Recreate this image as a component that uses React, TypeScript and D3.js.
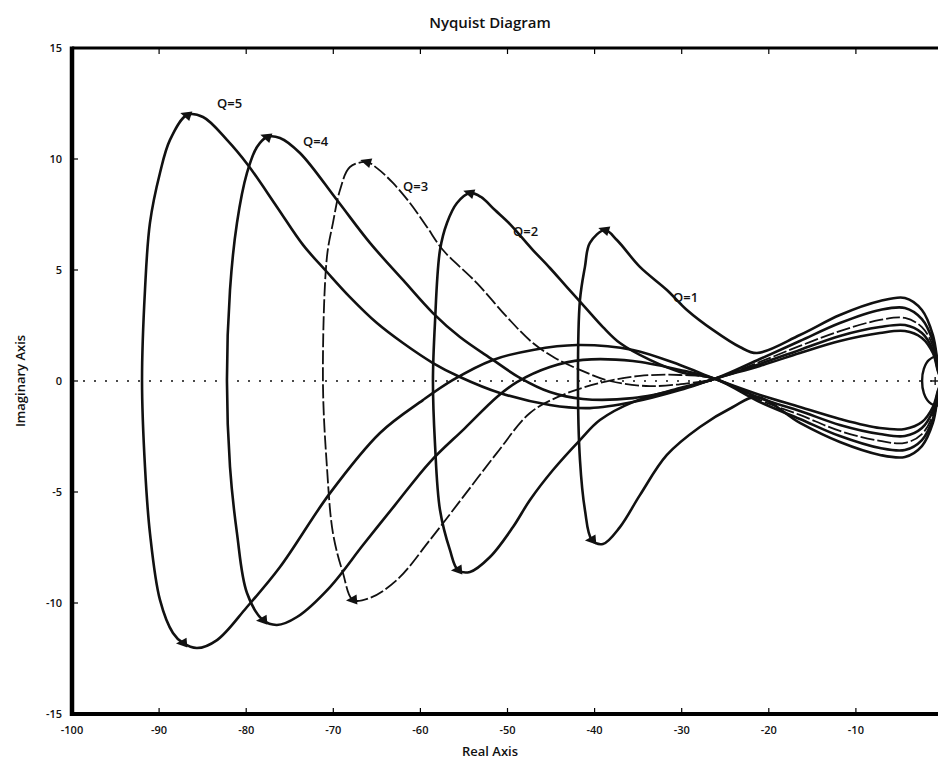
import React from "react";
import * as d3 from "d3";

// Nyquist loops, one per Q as [Re, Im]
const q1: [number, number][] = [
  [-38.81, 6.8], [-40.54, 6.22], [-41.11, 5.14], [-41.68, 3.65], [-41.91, 0],
  [-41.68, -3.56], [-41.11, -5.81], [-40.31, -7.16], [-39.04, -7.34], [-37.09, -6.58],
  [-34.8, -5.14], [-31.7, -3.33], [-27.91, -2.07], [-24.12, -1.17], [-21.36, -0.72],
  [-16.43, -1.89], [-11.84, -2.75], [-7.24, -3.33], [-4.37, -3.42], [-2.42, -2.93],
  [-1.16, -1.89], [-0.59, -0.68], [-0.24, 0], [-0.59, 0.77], [-1.16, 2.07],
  [-2.42, 3.2], [-4.37, 3.74], [-7.24, 3.6], [-11.84, 2.97], [-16.43, 2.07],
  [-21.36, 1.26], [-23.32, 1.53], [-26.42, 2.3], [-29.4, 3.2], [-31.7, 4.1],
  [-34.8, 5.14], [-37.44, 6.35],
];

const q2: [number, number][] = [
  [-54.31, 8.47], [-55.8, 8.02], [-56.95, 7.12], [-57.75, 5.9], [-58.33, 2.61],
  [-58.56, 0], [-58.33, -2.79], [-57.75, -5.81], [-56.61, -7.61], [-55.69, -8.51],
  [-54.31, -8.6], [-52.01, -7.93], [-49.37, -6.58], [-47.42, -5.36], [-44.78, -4.01],
  [-41.68, -2.66], [-39.39, -1.76], [-35.6, -0.95], [-30.2, -0.32], [-26.2, 0.1],
  [-21.02, 0.99], [-16.43, 1.8], [-11.84, 2.61], [-7.24, 3.2], [-4.37, 3.29],
  [-2.42, 2.79], [-1.16, 1.8], [-0.59, 0.68], [-0.24, 0], [-0.59, -0.63],
  [-1.16, -1.71], [-2.42, -2.66], [-4.37, -3.11], [-7.24, -3.02], [-11.84, -2.48],
  [-16.43, -1.71], [-21.02, -0.95], [-26.2, 0.1], [-30.2, 0.41], [-33.65, 0.95],
  [-37.09, 1.71], [-39.04, 2.43], [-41.11, 3.33], [-43.18, 4.23], [-45.13, 5.09],
  [-47.08, 5.9], [-49.72, 7.07], [-51.44, 7.7], [-53.05, 8.29],
];

const q3: [number, number][] = [
  [-66.14, 9.86], [-68.09, 9.64], [-69.23, 8.6], [-70.04, 7.12], [-70.73, 5.59],
  [-71.19, 0], [-70.73, -3.87], [-70.04, -6.85], [-68.89, -8.65], [-67.74, -9.86],
  [-65.79, -9.77], [-62.69, -8.96], [-58.9, -7.16], [-55.11, -5.23], [-51.21, -3.24],
  [-47.42, -1.44], [-43.98, -0.68], [-39.39, -0.09], [-34.8, 0.23], [-30.2, 0.27],
  [-26.2, 0.1], [-21.02, -0.86], [-16.43, -1.53], [-11.84, -2.25], [-7.24, -2.7],
  [-4.37, -2.79], [-2.42, -2.39], [-1.16, -1.53], [-0.59, -0.54], [-0.24, 0],
  [-0.59, 0.59], [-1.16, 1.58], [-2.42, 2.43], [-4.37, 2.84], [-7.24, 2.75],
  [-11.84, 2.25], [-16.43, 1.58], [-21.02, 0.86], [-26.2, 0.1], [-29.06, -0.09],
  [-33.65, -0.23], [-38.24, 0], [-41.68, 0.5], [-44.55, 1.04], [-47.08, 1.71],
  [-50.06, 2.88], [-53.51, 4.41], [-57.41, 5.9], [-59.25, 6.94], [-61.2, 8.02],
  [-63.15, 8.92], [-64.99, 9.59],
];

const q4: [number, number][] = [
  [-77.61, 10.99], [-78.76, 10.54], [-79.91, 9.37], [-81.06, 7.12], [-81.86, 4.1],
  [-82.21, 0], [-81.86, -3.87], [-81.06, -6.85], [-79.91, -9.55], [-78.07, -10.77],
  [-76.47, -10.99], [-74.17, -10.63], [-70.38, -9.28], [-66.59, -7.39], [-62.92, -5.59],
  [-58.9, -3.65], [-54.88, -2.12], [-51.21, -0.72], [-48.92, -0.05], [-45.13, 0.63],
  [-41.34, 0.95], [-35.6, 0.9], [-30.2, 0.5], [-26.2, 0.1], [-21.02, -0.77],
  [-16.43, -1.35], [-11.84, -1.98], [-7.24, -2.39], [-4.37, -2.48], [-2.42, -2.12],
  [-1.16, -1.35], [-0.59, -0.5], [-0.24, 0], [-0.59, 0.5], [-1.16, 1.4],
  [-2.42, 2.16], [-4.37, 2.52], [-7.24, 2.43], [-11.84, 2.03], [-16.43, 1.4],
  [-21.02, 0.77], [-26.2, 0.1], [-30.2, -0.36], [-35.6, -0.77], [-41.34, -0.81],
  [-45.13, -0.5], [-48.57, 0.14], [-51.67, 0.95], [-55.46, 1.98], [-58.56, 3.06],
  [-62.0, 4.55], [-65.79, 6.22], [-69.58, 8.15], [-73.83, 10.27], [-76.12, 10.95],
];

const q5: [number, number][] = [
  [-86.8, 11.98], [-88.75, 10.86], [-89.9, 9.37], [-91.05, 7.12], [-91.62, 4.1],
  [-91.96, 0], [-91.62, -3.87], [-91.05, -6.85], [-89.9, -9.86], [-88.41, -11.35],
  [-87.26, -11.8], [-85.65, -12.03], [-83.35, -11.67], [-79.91, -10.18], [-76.12, -8.38],
  [-70.38, -5.05], [-64.64, -2.34], [-59.71, -0.86], [-56.26, 0.05], [-51.67, 0.95],
  [-47.08, 1.4], [-42.03, 1.62], [-35.6, 1.4], [-30.2, 0.72], [-26.2, 0.1],
  [-21.02, -0.63], [-16.43, -1.17], [-11.84, -1.71], [-7.24, -2.12], [-4.37, -2.16],
  [-2.42, -1.85], [-1.16, -1.17], [-0.59, -0.45], [-0.24, 0], [-0.59, 0.45],
  [-1.16, 1.26], [-2.42, 1.94], [-4.37, 2.25], [-7.24, 2.16], [-11.84, 1.8],
  [-16.43, 1.26], [-21.02, 0.68], [-26.2, 0.1], [-30.2, -0.41], [-35.6, -0.95],
  [-40.54, -1.22], [-45.13, -1.08], [-50.87, -0.54], [-55.46, 0.18], [-58.56, 0.81],
  [-62.0, 1.71], [-64.99, 2.61], [-68.09, 3.78], [-70.73, 4.91], [-73.48, 6.13],
  [-76.47, 7.84], [-79.8, 9.73], [-82.21, 10.86], [-84.96, 11.89],
];

// small loop round the -1 point
const originLoop: [number, number][] = [
  [-0.6, 1.1], [-1.6, 0.95], [-2.2, 0.55], [-2.4, 0], [-2.2, -0.55],
  [-1.6, -0.95], [-0.6, -1.1], [0.2, -0.7], [0.45, 0], [0.2, 0.7],
];

const topMarkers: [number, number][] = [
  [-38.81, 6.8], [-54.31, 8.47], [-66.14, 9.86], [-77.61, 10.99], [-86.8, 11.98],
];
const bottomMarkers: [number, number][] = [
  [-40.31, -7.16], [-55.69, -8.51], [-67.74, -9.86], [-78.07, -10.77], [-87.26, -11.8],
];

const qNames = ["Q=1", "Q=2", "Q=3", "Q=4", "Q=5"];
const qLabelAt: [number, number][] = [
  [-31.0, 3.56], [-49.37, 6.53], [-62.0, 8.56], [-73.48, 10.59], [-83.35, 12.3],
];

const xTicks = [-100, -90, -80, -70, -60, -50, -40, -30, -20, -10];
const yTicks = [-15, -10, -5, 0, 5, 10, 15];

const W = 938;
const H = 766;
const margin = { left: 72, top: 48, right: -5, bottom: 52 };

export default function App() {
  const x = d3.scaleLinear().domain([-100, 0]).range([margin.left, W - margin.right]);
  const y = d3.scaleLinear().domain([-15, 15]).range([H - margin.bottom, margin.top]);

  const loop = d3
    .line<[number, number]>()
    .x((d) => x(d[0]))
    .y((d) => y(d[1]))
    .curve(d3.curveCatmullRomClosed.alpha(0.5));

  const curves = [q1, q2, q3, q4, q5];
  const font = "'Open Sans', 'DejaVu Sans', sans-serif";
  const tri = "M-7,0 L4,-5 L4,5 Z";

  return (
    <svg
      width={W}
      height={H}
      style={{ position: "absolute", left: 0, top: 0, background: "#fff" }}
      fontFamily={font}
    >
      <rect width={W} height={H} fill="#fff" />

      {/* zero line */}
      <line
        x1={x(-100)}
        x2={x(0)}
        y1={y(0)}
        y2={y(0)}
        stroke="#111"
        strokeWidth={1.6}
        strokeDasharray="2 9"
      />

      {curves.map((c, i) => (
        <path
          key={i}
          d={loop(c) || ""}
          fill="none"
          stroke="#111"
          strokeWidth={i === 2 ? 1.8 : 2.6}
          strokeDasharray={i === 2 ? "14 3" : undefined}
          strokeLinejoin="round"
        />
      ))}

      <path d={loop(originLoop) || ""} fill="none" stroke="#111" strokeWidth={2.4} />
      <g stroke="#111" strokeWidth={1.4}>
        <line x1={x(-0.9) - 4} x2={x(-0.9) + 4} y1={y(0)} y2={y(0)} />
        <line x1={x(-0.9)} x2={x(-0.9)} y1={y(0) - 4} y2={y(0) + 4} />
      </g>

      {topMarkers.map((d, i) => (
        <path key={"t" + i} d={tri} fill="#111" transform={`translate(${x(d[0])},${y(d[1])}) rotate(18)`} />
      ))}
      {bottomMarkers.map((d, i) => (
        <path key={"b" + i} d={tri} fill="#111" transform={`translate(${x(d[0])},${y(d[1])}) rotate(-5)`} />
      ))}

      {qNames.map((n, i) => (
        <text
          key={n}
          x={x(qLabelAt[i][0])}
          y={y(qLabelAt[i][1])}
          fontSize={13}
          fontWeight={600}
          fill="#111"
        >
          {n}
        </text>
      ))}

      {/* frame */}
      <line x1={x(-100)} x2={W} y1={y(15)} y2={y(15)} stroke="#000" strokeWidth={3} />
      <line x1={x(-100)} x2={W} y1={y(-15)} y2={y(-15)} stroke="#000" strokeWidth={4} />
      <line x1={x(-100)} x2={x(-100)} y1={y(15) - 1.5} y2={y(-15) + 2} stroke="#000" strokeWidth={4.5} />

      {xTicks.map((t) => (
        <g key={"x" + t}>
          <line x1={x(t)} x2={x(t)} y1={y(-15)} y2={y(-15) - 6} stroke="#000" strokeWidth={1.2} />
          <line x1={x(t)} x2={x(t)} y1={y(15)} y2={y(15) + 6} stroke="#000" strokeWidth={1.2} />
          <text x={x(t)} y={y(-15) + 20} textAnchor="middle" fontSize={11} fontWeight={600} fill="#111">
            {t}
          </text>
        </g>
      ))}
      {yTicks.map((t) => (
        <g key={"y" + t}>
          <line x1={x(-100)} x2={x(-100) + 6} y1={y(t)} y2={y(t)} stroke="#000" strokeWidth={1.2} />
          <text x={x(-100) - 10} y={y(t) + 4} textAnchor="end" fontSize={11} fontWeight={600} fill="#111">
            {t}
          </text>
        </g>
      ))}

      <text x={490} y={28} textAnchor="middle" fontSize={15} fontWeight={600} fill="#111">
        Nyquist Diagram
      </text>
      <text x={490} y={756} textAnchor="middle" fontSize={13} fontWeight={600} fill="#111">
        Real Axis
      </text>
      <text
        transform={`translate(25,${y(0)}) rotate(-90)`}
        textAnchor="middle"
        fontSize={13}
        fontWeight={600}
        fill="#111"
      >
        Imaginary Axis
      </text>
    </svg>
  );
}
